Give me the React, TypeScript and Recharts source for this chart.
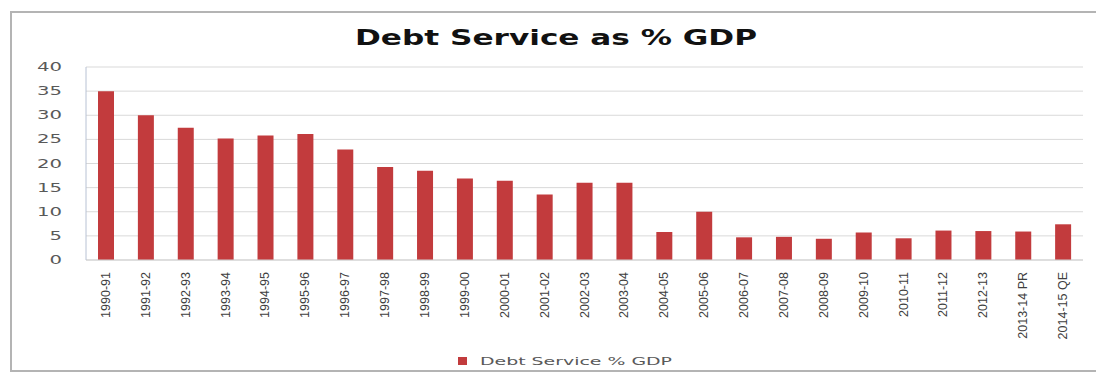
import { BarChart, Bar, XAxis, YAxis, CartesianGrid, Legend } from "recharts";

const years = [
  "1990-91", "1991-92", "1992-93", "1993-94", "1994-95", "1995-96", "1996-97",
  "1997-98", "1998-99", "1999-00", "2000-01", "2001-02", "2002-03", "2003-04",
  "2004-05", "2005-06", "2006-07", "2007-08", "2008-09", "2009-10", "2010-11",
  "2011-12", "2012-13", "2013-14 PR", "2014-15 QE",
];
const debtService = [
  35, 30, 27.4, 25.2, 25.8, 26.1, 22.9, 19.3, 18.5, 16.9, 16.4, 13.6, 16.0, 16.0,
  5.8, 10.0, 4.7, 4.8, 4.4, 5.7, 4.5, 6.1, 6.0, 5.9, 7.4,
];
const yTicks = [0, 5, 10, 15, 20, 25, 30, 35, 40];

const rows = years.map((year, i) => ({ year, value: debtService[i] }));

const BAR = "#c23b3d";
const TEXT = "#595959";

function YTick({ x, y, payload }: any) {
  const label = String(payload.value);
  return (
    <text
      x={x}
      y={y}
      textAnchor="end"
      dominantBaseline="central"
      fill={TEXT}
      fontSize={12}
      fontFamily="DejaVu Sans"
      textLength={label.length * 12.5}
      lengthAdjust="spacingAndGlyphs"
    >
      {label}
    </text>
  );
}

function XTick({ x, y, payload }: any) {
  return (
    <g transform={`translate(${x},${y})`}>
      <text
        transform="rotate(-90)"
        textAnchor="end"
        dominantBaseline="central"
        fill="#404040"
        fontSize={12.5}
        fontFamily="Liberation Sans"
      >
        {payload.value}
      </text>
    </g>
  );
}

function LegendBox() {
  return (
    <svg width={1096} height={16} style={{ display: "block" }}>
      <rect x={458} y={4} width={9} height={8} fill={BAR} />
      <text
        x={480}
        y={8}
        dominantBaseline="central"
        fill={TEXT}
        fontSize={11}
        fontFamily="DejaVu Sans"
        textLength={192}
        lengthAdjust="spacingAndGlyphs"
      >
        Debt Service % GDP
      </text>
    </svg>
  );
}

export default function App() {
  return (
    <div
      style={{
        position: "absolute",
        left: 0,
        top: 0,
        width: 1096,
        height: 374,
        overflow: "hidden",
        background: "#fff",
      }}
    >
      <div
        style={{
          position: "absolute",
          left: 10,
          top: 11,
          width: 1120,
          height: 357,
          border: "2px solid #b4b4b4",
        }}
      />
      <svg
        width={1096}
        height={50}
        style={{ position: "absolute", left: 0, top: 10 }}
      >
        <text
          x={355}
          y={28}
          dominantBaseline="central"
          fill="#111"
          fontSize={21}
          fontWeight="bold"
          fontFamily="DejaVu Sans"
          textLength={402}
          lengthAdjust="spacingAndGlyphs"
        >
          Debt Service as % GDP
        </text>
      </svg>
      <BarChart
        width={1096}
        height={374}
        data={rows}
        margin={{ top: 67, right: 13, left: 0, bottom: 14 }}
        barCategoryGap="60%"
        style={{ position: "absolute", left: 0, top: 0 }}
      >
        <CartesianGrid vertical={false} stroke="#d9d9d9" />
        <XAxis
          dataKey="year"
          height={84}
          interval={0}
          tickSize={0}
          tickMargin={12}
          axisLine={{ stroke: "#d0d0d0" }}
          tick={<XTick />}
        />
        <YAxis
          width={86}
          domain={[0, 40]}
          ticks={yTicks}
          tickSize={0}
          tickMargin={24}
          axisLine={{ stroke: "#b8c2d4" }}
          tick={<YTick />}
        />
        <Legend
          verticalAlign="bottom"
          content={() => <LegendBox />}
          wrapperStyle={{ top: 353, left: 0, width: 1096, height: 16 }}
        />
        <Bar
          dataKey="value"
          name="Debt Service % GDP"
          fill={BAR}
          barSize={16}
          isAnimationActive={false}
        />
      </BarChart>
    </div>
  );
}
